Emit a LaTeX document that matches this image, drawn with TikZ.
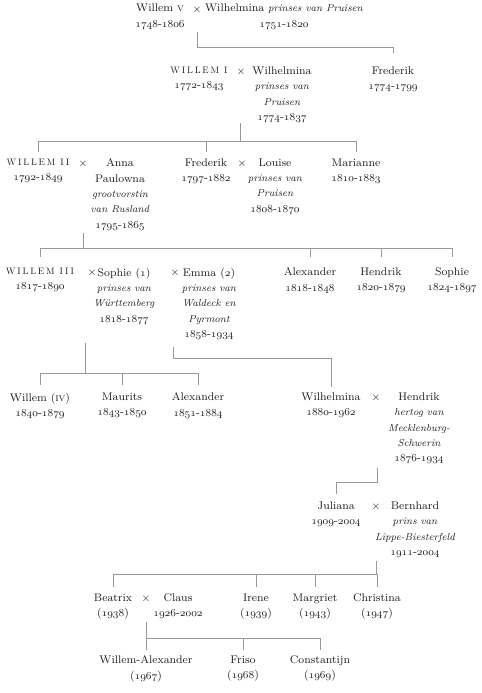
\documentclass[tikz,border=0pt]{standalone}
\usepackage{fontspec}
\usetikzlibrary{calc}

\definecolor{lijnkleur}{gray}{0.6}
\definecolor{tekstkleur}{gray}{0.12}

\newfontfamily\kapfont[Extension=.otf,LetterSpace=20]{lmroman10-regular}

% old style figures from the math italic font
\newcommand{\osn}[1]{{\fontencoding{OML}\fontfamily{cmm}\fontseries{m}\fontshape{it}\selectfont #1}}
\newcommand{\jr}[2]{\osn{#1}-\osn{#2}}
\newcommand{\koning}[1]{{\kapfont\fontsize{7}{11.5}\selectfont #1}}
\newcommand{\pr}[1]{{\itshape\fontsize{7.6}{11.5}\selectfont #1}}

\tikzset{
  persoon/.style={anchor=north, align=center, inner sep=0pt, text=tekstkleur,
    font=\fontsize{8.3}{11.5}\selectfont},
  huw/.style={anchor=base, inner sep=0pt, text=tekstkleur,
    font=\fontsize{8.3}{11.5}\selectfont},
  lijn/.style={draw=lijnkleur, line width=0.6pt}
}

\begin{document}
\begin{tikzpicture}[x=0.75pt, y=-0.75pt]
  \useasboundingbox (0,0) rectangle (482,693);

  % generatie 1
  \node[persoon] (willem5) at (160,4) {Willem \textsc{v}\\\jr{1748}{1806}};
  \node[huw] (x1) at (197,12) {$\times$};
  \node[persoon] (wilhelmina1) at (284,4) {Wilhelmina \pr{prinses van Pruisen}\\\jr{1751}{1820}};

  % generatie 2
  \node[persoon] (willem1) at (199,66.5) {\koning{WILLEM I}\\\jr{1772}{1843}};
  \node[huw] (x2) at (241,74.5) {$\times$};
  \node[persoon] (wilhelmina2) at (282,66.5) {Wilhelmina\\\pr{prinses van}\\\pr{Pruisen}\\\jr{1774}{1837}};
  \node[persoon] (frederik1) at (393,66.5) {Frederik\\\jr{1774}{1799}};

  % generatie 3
  \node[persoon] (willem2) at (38,158.5) {\koning{WILLEM II}\\\jr{1792}{1849}};
  \node[huw] (x3) at (83,166.5) {$\times$};
  \node[persoon] (anna) at (120,158.5) {Anna\\Paulowna\\\pr{grootvorstin}\\\pr{van Rusland}\\\jr{1795}{1865}};
  \node[persoon] (frederik2) at (206,158.5) {Frederik\\\jr{1797}{1882}};
  \node[huw] (x4) at (242,166.5) {$\times$};
  \node[persoon] (louise) at (275,158.5) {Louise\\\pr{prinses van}\\\pr{Pruisen}\\\jr{1808}{1870}};
  \node[persoon] (marianne) at (356,158.5) {Marianne\\\jr{1810}{1883}};

  % generatie 4
  \node[persoon] (willem3) at (40,267.5) {\koning{WILLEM III}\\\jr{1817}{1890}};
  \node[huw] (x5) at (92,275.5) {$\times$};
  \node[persoon] (sophie1) at (124,267.5) {Sophie (\osn{1})\\\pr{prinses van}\\\pr{Württemberg}\\\jr{1818}{1877}};
  \node[huw] (x6) at (175,275.5) {$\times$};
  \node[persoon] (emma) at (209,267.5) {Emma (\osn{2})\\\pr{prinses van}\\\pr{Waldeck en}\\\pr{Pyrmont}\\\jr{1858}{1934}};
  \node[persoon] (alexander1) at (310,267.5) {Alexander\\\jr{1818}{1848}};
  \node[persoon] (hendrik1) at (381,267.5) {Hendrik\\\jr{1820}{1879}};
  \node[persoon] (sophie2) at (452,267.5) {Sophie\\\jr{1824}{1897}};

  % generatie 5
  \node[persoon] (willem4) at (40,392.5) {Willem (\textsc{iv})\\\jr{1840}{1879}};
  \node[persoon] (maurits) at (122,392.5) {Maurits\\\jr{1843}{1850}};
  \node[persoon] (alexander2) at (198,392.5) {Alexander\\\jr{1851}{1884}};
  \node[persoon] (wilhelmina3) at (331,392.5) {Wilhelmina\\\jr{1880}{1962}};
  \node[huw] (x7) at (376,400.5) {$\times$};
  \node[persoon] (hendrik2) at (419,392.5) {Hendrik\\\pr{hertog van}\\\pr{Mecklenburg-}\\\pr{Schwerin}\\\jr{1876}{1934}};

  % generatie 6
  \node[persoon] (juliana) at (336,501.5) {Juliana\\\jr{1909}{2004}};
  \node[huw] (x8) at (376,509.5) {$\times$};
  \node[persoon] (bernhard) at (415,501.5) {Bernhard\\\pr{prins van}\\\pr{Lippe-Biesterfeld}\\\jr{1911}{2004}};

  % generatie 7
  \node[persoon] (beatrix) at (113,593.5) {Beatrix\\(\osn{1938})};
  \node[huw] (x9) at (146,601.5) {$\times$};
  \node[persoon] (claus) at (178,593.5) {Claus\\\jr{1926}{2002}};
  \node[persoon] (irene) at (256,593.5) {Irene\\(\osn{1939})};
  \node[persoon] (margriet) at (315,593.5) {Margriet\\(\osn{1943})};
  \node[persoon] (christina) at (377,593.5) {Christina\\(\osn{1947})};

  % generatie 8
  \node[persoon] (wa) at (146,655.5) {Willem-Alexander\\(\osn{1967})};
  \node[persoon] (friso) at (243,655.5) {Friso\\(\osn{1968})};
  \node[persoon] (constantijn) at (320,655.5) {Constantijn\\(\osn{1969})};

  % lijnen
  \coordinate (s1) at (197,32);  \coordinate (b1) at (197,47);
  \draw[lijn] (s1) |- (frederik1.north |- b1) -- ++(0,6);

  \coordinate (s2) at (240,123); \coordinate (b2) at (240,141);
  \draw[lijn] (s2) -- (b2);
  \draw[lijn] (willem2.north |- b2) -- (marianne.north |- b2);
  \foreach \k in {willem2,frederik2,marianne}
    \draw[lijn] (\k.north |- b2) -- ++(0,11);

  \coordinate (s3) at (83,233);  \coordinate (b3) at (83,248);
  \draw[lijn] (s3) -- (b3);
  \draw[lijn] (willem3.north |- b3) -- (sophie2.north |- b3);
  \foreach \k in {willem3,alexander1,hendrik1,sophie2}
    \draw[lijn] (\k.north |- b3) -- ++(0,9);

  \coordinate (s4) at (85,343);  \coordinate (b4) at (85,373);
  \draw[lijn] (s4) -- (b4);
  \draw[lijn] (willem4.north |- b4) -- (alexander2.north |- b4);
  \foreach \k in {willem4,maurits,alexander2}
    \draw[lijn] (\k.north |- b4) -- ++(0,12);

  \coordinate (s5) at (173,347); \coordinate (b5) at (173,358);
  \draw[lijn] (s5) |- (wilhelmina3.north |- b5) -- ++(0,29);

  \coordinate (s6) at (377,468); \coordinate (b6) at (377,482);
  \draw[lijn] (s6) |- (juliana.north |- b6) -- ++(0,12);

  \coordinate (s7) at (376,561); \coordinate (b7) at (376,574);
  \draw[lijn] (s7) -- (b7);
  \draw[lijn] (beatrix.north |- b7) -- (christina.north |- b7);
  \foreach \k in {beatrix,irene,margriet,christina}
    \draw[lijn] (\k.north |- b7) -- ++(0,13);

  \coordinate (s8) at (146,622); \coordinate (b8) at (146,638);
  \draw[lijn] (s8) -- (b8);
  \draw[lijn] (wa.north |- b8) -- (constantijn.north |- b8);
  \foreach \k in {wa,friso,constantijn}
    \draw[lijn] (\k.north |- b8) -- ++(0,12);
\end{tikzpicture}
\end{document}
